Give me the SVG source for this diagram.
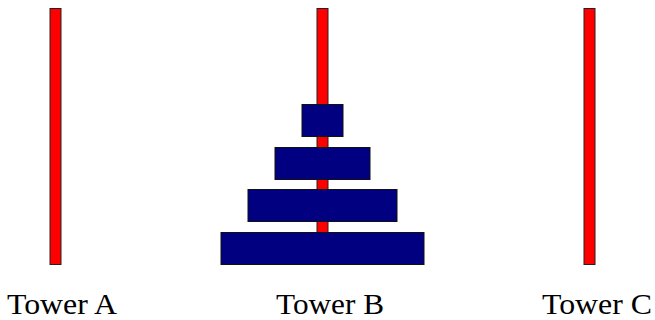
<svg xmlns="http://www.w3.org/2000/svg" width="655" height="320" viewBox="0 0 655 320">
<style>
.peg{fill:#ff0000;stroke:#222;stroke-width:1}
.disk{fill:#000080;stroke:#111;stroke-width:1}
.lbl{font-family:"Liberation Serif","DejaVu Serif",serif;font-size:30px;fill:#000;text-anchor:middle}
</style>
<rect width="655" height="320" fill="#fff"/>
<g id="pegA"><rect class="peg" x="50" y="8.5" width="11" height="256"/></g>
<g id="pegB"><rect class="peg" x="317" y="8.5" width="11" height="256"/></g>
<g id="pegC"><rect class="peg" x="584" y="8.5" width="11" height="256"/></g>
<g id="disk1"><rect class="disk" x="302" y="104.5" width="41" height="32"/></g>
<g id="disk2"><rect class="disk" x="275" y="147.5" width="95" height="32"/></g>
<g id="disk3"><rect class="disk" x="248" y="189.5" width="149" height="32"/></g>
<g id="disk4"><rect class="disk" x="221" y="232.5" width="203" height="32"/></g>
<g id="labels">
<text class="lbl" x="62" y="314" textLength="110" lengthAdjust="spacingAndGlyphs">Tower A</text>
<text class="lbl" x="330" y="314" textLength="108" lengthAdjust="spacingAndGlyphs">Tower B</text>
<text class="lbl" x="597" y="314" textLength="110" lengthAdjust="spacingAndGlyphs">Tower C</text>
</g>
</svg>
